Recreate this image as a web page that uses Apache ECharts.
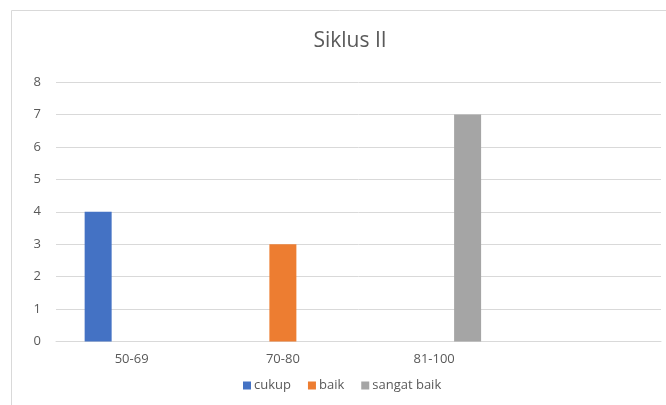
<!DOCTYPE html>
<html>
<head>
<meta charset="utf-8">
<script src="https://cdn.jsdelivr.net/npm/echarts@6/dist/echarts.min.js"></script>
<style>
  html, body { margin: 0; padding: 0; background: #fff; }
  #chart { width: 666px; height: 405px; }
</style>
</head>
<body>
<div id="chart"></div>
<script>
// Chart data
const categories = ['50-69', '70-80', '81-100', ''];
const cukupValues = [4, null, null, null];
const baikValues = [null, 3, null, null];
const sangatBaikValues = [null, null, 7, null];
const yTicks = { min: 0, max: 8, interval: 1 };

const chartDom = document.getElementById('chart');
const myChart = echarts.init(chartDom, null, { renderer: 'canvas' });

const font = '"Open Sans", "Noto Sans", sans-serif';
const textColor = '#595959';

const option = {
    animation: false,
    color: ['#4472c4', '#ed7d31', '#a5a5a5'],
    graphic: [
        {
            type: 'rect',
            shape: { x: 11.5, y: 10.5, width: 700, height: 500 },
            style: { fill: 'none', stroke: '#d9d9d9', lineWidth: 1 },
            silent: true
        }
    ],
    title: {
        text: 'Siklus II',
        left: 345,
        top: 26,
        textAlign: 'center',
        textStyle: {
            color: textColor,
            fontSize: 21,
            fontWeight: 'normal',
            fontFamily: font
        }
    },
    legend: {
        left: 238,
        top: 374,
        itemWidth: 8,
        itemHeight: 8,
        itemGap: 17,
        icon: 'rect',
        textStyle: { color: textColor, fontSize: 13, fontFamily: font, padding: [0, 0, 0, -2] },
        data: ['cukup', 'baik', 'sangat baik']
    },
    grid: {
        left: 56,
        right: 5,
        top: 82,
        bottom: 63.5,
        containLabel: false
    },
    xAxis: {
        type: 'category',
        data: categories,
        axisLine: { lineStyle: { color: '#d9d9d9' } },
        axisTick: { show: false },
        axisLabel: { color: textColor, fontSize: 13, fontFamily: font, margin: 11 }
    },
    yAxis: {
        type: 'value',
        min: yTicks.min,
        max: yTicks.max,
        interval: yTicks.interval,
        axisLine: { show: false },
        axisTick: { show: false },
        axisLabel: { color: textColor, fontSize: 13, fontFamily: font, margin: 15 },
        splitLine: { lineStyle: { color: '#d9d9d9' } }
    },
    series: [
        { name: 'cukup', type: 'bar', data: cukupValues, barWidth: 27, barGap: '24%' },
        { name: 'baik', type: 'bar', data: baikValues, barWidth: 27, barGap: '24%' },
        { name: 'sangat baik', type: 'bar', data: sangatBaikValues, barWidth: 27, barGap: '24%' }
    ]
};

myChart.setOption(option);
</script>
</body>
</html>
